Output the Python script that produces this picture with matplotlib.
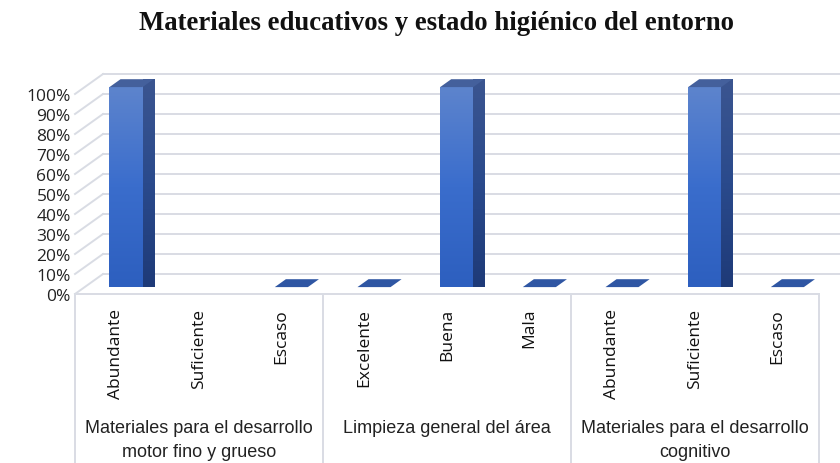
import numpy as np
import matplotlib
matplotlib.use("Agg")
import matplotlib.pyplot as plt
from matplotlib.patches import Polygon, Rectangle
from matplotlib.colors import LinearSegmentedColormap

# data
titulo = "Materiales educativos y estado higiénico del entorno"
grupos = ["Materiales para el desarrollo\nmotor fino y grueso",
          "Limpieza general del área",
          "Materiales para el desarrollo\ncognitivo"]
categorias = ["Abundante", "Suficiente", "Escaso",
              "Excelente", "Buena", "Mala",
              "Abundante", "Suficiente", "Escaso"]
valores = [100, np.nan, 0, 0, 100, 0, 0, 100, 0]
yticks = list(range(0, 101, 10))

# oblique depth (data units) and bar depth fractions
DX, DY = 0.339, 10.0
F0, F1 = 0.345, 0.74
W = 0.4
grid_c = "#d9dce4"

fig = plt.figure(figsize=(8.4, 4.64), dpi=100)
ax = fig.add_axes([75 / 840, (464 - 295) / 464, 744 / 840, 200 / 464])
for s in ax.spines.values():
    s.set_visible(False)

# walls
x0, x1 = -0.5, len(categorias) - 0.5
for v in yticks:
    ax.plot([x0 + DX, x1 + DX + 1], [v + DY, v + DY], color=grid_c, lw=1.4,
            clip_on=False, zorder=1)
    ax.plot([x0, x0 + DX], [v, v + DY], color=grid_c, lw=1.4, clip_on=False, zorder=1)

# category table below the axis
ax.plot([x0, x1], [0, 0], color=grid_c, lw=1.4, clip_on=False, zorder=1)
for b in [0, 3, 6, 9]:
    ax.plot([b - 0.5, b - 0.5], [0, -90], color=grid_c, lw=1.4, clip_on=False, zorder=1)

grad = np.linspace(0, 1, 256).reshape(-1, 1)
cm_front = LinearSegmentedColormap.from_list("f", ["#2d5fbf", "#3a6dcc", "#5d84cd"])
cm_side = LinearSegmentedColormap.from_list("s", ["#1e3a78", "#2a4a8c", "#3b5590"])

for i, v in enumerate(valores):
    if np.isnan(v):
        continue
    xl = i - W / 2 + F0 * DX
    xr = i + W / 2 + F0 * DX
    yb = F0 * DY
    yt = v + F0 * DY
    ddx = (F1 - F0) * DX
    ddy = (F1 - F0) * DY
    if v > 0:
        front = Rectangle((xl, yb), xr - xl, yt - yb, fc="none", ec="none")
        ax.add_patch(front)
        im = ax.imshow(grad, cmap=cm_front, aspect="auto", origin="lower",
                       extent=[xl, xr, yb, yt], zorder=3, clip_on=False)
        im.set_clip_path(front)
        side = Polygon([[xr, yb], [xr + ddx, yb + ddy], [xr + ddx, yt + ddy], [xr, yt]],
                       closed=True, fc="none", ec="none")
        ax.add_patch(side)
        im2 = ax.imshow(grad, cmap=cm_side, aspect="auto", origin="lower",
                        extent=[xr, xr + ddx, yb, yt + ddy], zorder=3, clip_on=False)
        im2.set_clip_path(side)
        top = Polygon([[xl, yt], [xr, yt], [xr + ddx, yt + ddy], [xl + ddx, yt + ddy]],
                      closed=True, fc="#44609c", ec="none", zorder=4, clip_on=False)
        ax.add_patch(top)
    else:
        top = Polygon([[xl, yb], [xr, yb], [xr + ddx, yb + ddy], [xl + ddx, yb + ddy]],
                      closed=True, fc="#2f56a3", ec="none", zorder=4, clip_on=False)
        ax.add_patch(top)

ax.set_xlim(-0.5, len(categorias) - 0.5)
ax.set_ylim(0, 100)

ax.set_yticks(yticks)
ax.set_yticklabels([f"{t}%" for t in yticks], fontfamily="Open Sans", fontsize=12.5,
                   color="#222222")
ax.set_xticks(range(len(categorias)))
ax.set_xticklabels(categorias, rotation=90, fontfamily="Open Sans", fontsize=12.5,
                   color="#111111", va="top")
ax.tick_params(length=0)
ax.tick_params(axis="y", pad=3)
ax.tick_params(axis="x", pad=10)

for g, name in enumerate(grupos):
    ax.text(g * 3 + 1, -62.5, name, ha="center", va="top", fontfamily="Liberation Sans",
            fontsize=13, color="#222222", linespacing=1.55, clip_on=False)

fig.text(0.52, 0.949, titulo, ha="center", va="center", fontfamily="Liberation Serif",
         fontweight="bold", fontsize=19.3, color="#111111")

fig.savefig("out.png", dpi=100)
